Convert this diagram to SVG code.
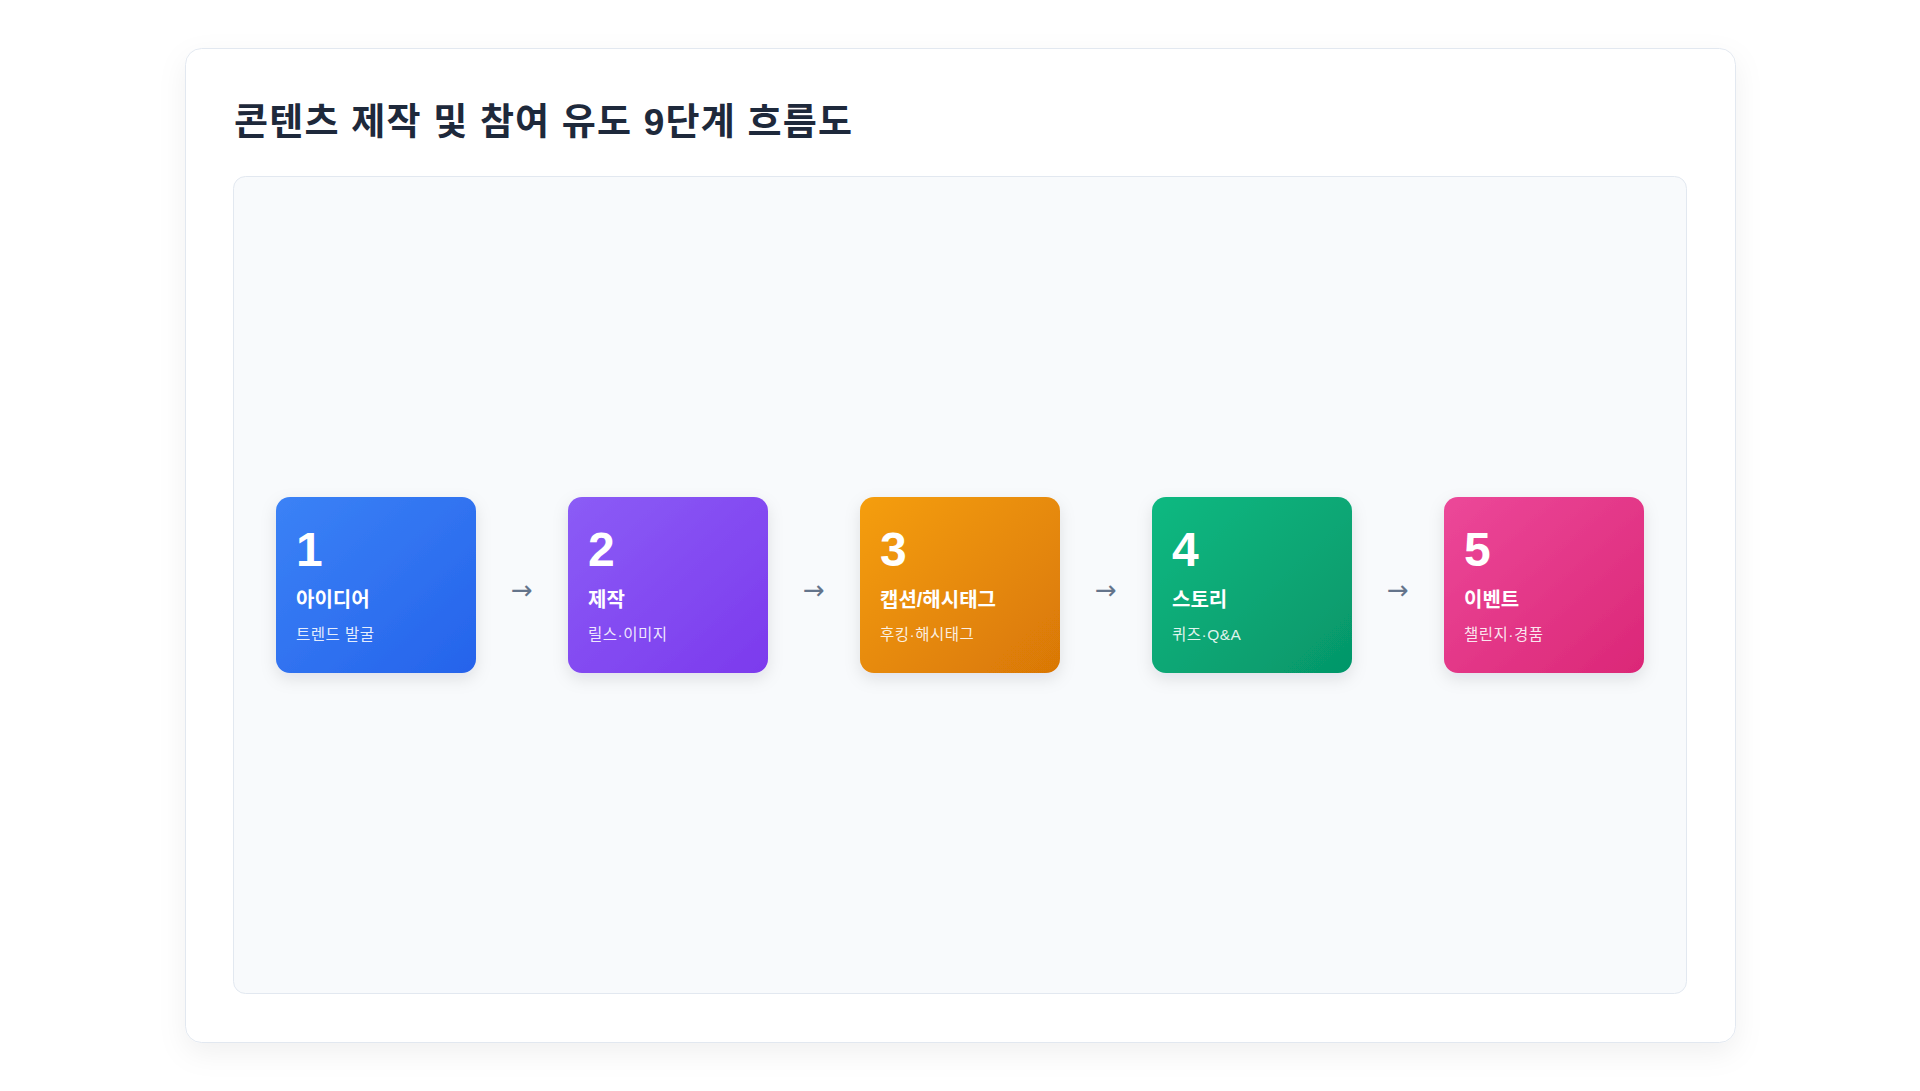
<svg xmlns="http://www.w3.org/2000/svg" width="1920" height="1091" viewBox="0 0 1920 1091">
<defs>
<style>
.num{font-family:"Liberation Sans","Noto Sans CJK KR",sans-serif;font-size:48px;font-weight:700;fill:#ffffff}
.ttl{font-family:"Liberation Sans","Noto Sans CJK KR",sans-serif;font-size:20px;font-weight:700;fill:#ffffff}
.sub{font-family:"Liberation Sans","Noto Sans CJK KR",sans-serif;font-size:15.5px;letter-spacing:0.5px;fill:#ffffff;fill-opacity:0.88}
.arr{font-family:"DejaVu Sans",sans-serif;font-size:26px;fill:#64748b;text-anchor:middle}
.head{font-family:"Liberation Sans","Noto Sans CJK KR",sans-serif;font-size:37px;letter-spacing:1.2px;font-weight:700;fill:#1e293b}
</style>
<filter id="cardShadow" x="-10%" y="-10%" width="120%" height="125%">
<feDropShadow dx="0" dy="10" stdDeviation="14" flood-color="#0f172a" flood-opacity="0.06"/>
</filter>
<filter id="nodeShadow" x="-20%" y="-20%" width="140%" height="150%">
<feDropShadow dx="0" dy="6" stdDeviation="8" flood-color="#0f172a" flood-opacity="0.10"/>
</filter>
<linearGradient id="g1" x1="0" y1="0" x2="1" y2="1"><stop offset="0" stop-color="#3b82f6"/><stop offset="1" stop-color="#2563eb"/></linearGradient>
<linearGradient id="g2" x1="0" y1="0" x2="1" y2="1"><stop offset="0" stop-color="#8b5cf6"/><stop offset="1" stop-color="#7c3aed"/></linearGradient>
<linearGradient id="g3" x1="0" y1="0" x2="1" y2="1"><stop offset="0" stop-color="#f59e0b"/><stop offset="1" stop-color="#d97706"/></linearGradient>
<linearGradient id="g4" x1="0" y1="0" x2="1" y2="1"><stop offset="0" stop-color="#10b981"/><stop offset="1" stop-color="#059669"/></linearGradient>
<linearGradient id="g5" x1="0" y1="0" x2="1" y2="1"><stop offset="0" stop-color="#ec4899"/><stop offset="1" stop-color="#db2777"/></linearGradient>
</defs>
<rect x="0" y="0" width="1920" height="1091" fill="#ffffff"/>
<g id="card">
<rect x="185.5" y="48.5" width="1550" height="994" rx="16" fill="#ffffff" stroke="#e2e8f0" stroke-width="1" filter="url(#cardShadow)"/>
<text class="head" x="234" y="135">콘텐츠 제작 및 참여 유도 9단계 흐름도</text>
<rect x="233.5" y="176.5" width="1453" height="817" rx="12" fill="#f8fafc" stroke="#e2e8f0" stroke-width="1"/>
</g>
<g id="node1">
<rect x="276" y="497" width="200" height="176" rx="14" fill="url(#g1)" filter="url(#nodeShadow)"/>
<text class="num" x="296" y="566">1</text>
<text class="ttl" x="296" y="607">아이디어</text>
<text class="sub" x="296" y="640">트렌드 발굴</text>
</g>
<g id="node2">
<rect x="568" y="497" width="200" height="176" rx="14" fill="url(#g2)" filter="url(#nodeShadow)"/>
<text class="num" x="588" y="566">2</text>
<text class="ttl" x="588" y="607">제작</text>
<text class="sub" x="588" y="640">릴스·이미지</text>
</g>
<g id="node3">
<rect x="860" y="497" width="200" height="176" rx="14" fill="url(#g3)" filter="url(#nodeShadow)"/>
<text class="num" x="880" y="566">3</text>
<text class="ttl" x="880" y="607">캡션/해시태그</text>
<text class="sub" x="880" y="640">후킹·해시태그</text>
</g>
<g id="node4">
<rect x="1152" y="497" width="200" height="176" rx="14" fill="url(#g4)" filter="url(#nodeShadow)"/>
<text class="num" x="1172" y="566">4</text>
<text class="ttl" x="1172" y="607">스토리</text>
<text class="sub" x="1172" y="640">퀴즈·Q&amp;A</text>
</g>
<g id="node5">
<rect x="1444" y="497" width="200" height="176" rx="14" fill="url(#g5)" filter="url(#nodeShadow)"/>
<text class="num" x="1464" y="566">5</text>
<text class="ttl" x="1464" y="607">이벤트</text>
<text class="sub" x="1464" y="640">챌린지·경품</text>
</g>
<g id="connectors">
<text class="arr" x="522" y="599">→</text>
<text class="arr" x="814" y="599">→</text>
<text class="arr" x="1106" y="599">→</text>
<text class="arr" x="1398" y="599">→</text>
</g>
</svg>
